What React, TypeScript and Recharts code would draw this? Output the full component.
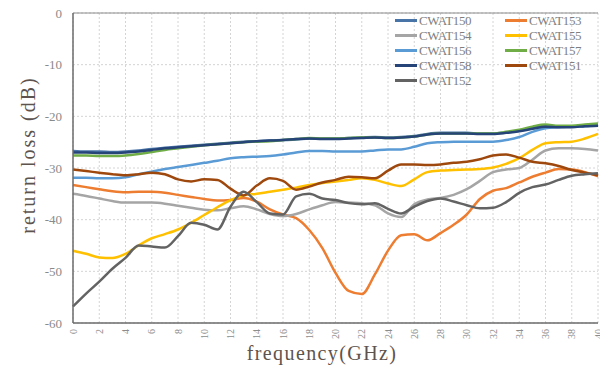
import { LineChart, Line, XAxis, YAxis, CartesianGrid, ReferenceLine } from "recharts";

const freq = [
  0, 1, 2, 3, 4, 5, 6, 7, 8, 9, 10, 11, 12, 13, 14, 15, 16, 17, 18, 19, 20,
  21, 22, 23, 24, 25, 26, 27, 28, 29, 30, 31, 32, 33, 34, 35, 36, 37, 38, 39, 40,
];
const xTicks = [0, 2, 4, 6, 8, 10, 12, 14, 16, 18, 20, 22, 24, 26, 28, 30, 32, 34, 36, 38, 40];
const yTicks = [-60, -50, -40, -30, -20, -10, 0];

const cwat150 = [
  -26.7, -26.8, -26.8, -26.9, -26.8, -26.6, -26.3, -26.1, -25.9, -25.7, -25.5,
  -25.3, -25.1, -24.9, -24.8, -24.7, -24.6, -24.5, -24.3, -24.3, -24.3,
  -24.2, -24.1, -24.0, -24.1, -24.0, -23.8, -23.4, -23.2, -23.2, -23.2,
  -23.3, -23.3, -23.1, -22.8, -22.3, -21.9, -22.0, -22.0, -21.8, -21.6,
];
const cwat158 = [
  -27.0, -27.0, -27.1, -27.1, -27.0, -26.8, -26.5, -26.2, -26.0, -25.8, -25.6,
  -25.4, -25.2, -25.0, -24.8, -24.7, -24.6, -24.4, -24.3, -24.4, -24.4,
  -24.3, -24.2, -24.1, -24.2, -24.1, -23.9, -23.5, -23.3, -23.3, -23.3,
  -23.4, -23.4, -23.2, -22.9, -22.4, -22.0, -22.1, -22.1, -21.9, -21.8,
];
const cwat157 = [
  -27.6, -27.6, -27.7, -27.7, -27.6, -27.3, -26.9, -26.5, -26.2, -25.9, -25.6,
  -25.4, -25.2, -25.0, -24.9, -24.8, -24.6, -24.4, -24.2, -24.3, -24.3,
  -24.2, -24.1, -24.1, -24.2, -24.1, -23.9, -23.5, -23.3, -23.3, -23.3,
  -23.3, -23.3, -23.0, -22.6, -22.0, -21.6, -21.8, -21.8, -21.6, -21.4,
];
const cwat156 = [
  -31.9, -31.9, -32.0, -32.0, -31.8, -31.2, -30.7, -30.2, -29.8, -29.4, -29.0,
  -28.6, -28.1, -27.9, -27.8, -27.7, -27.4, -27.0, -26.7, -26.7, -26.8,
  -26.8, -26.8, -26.6, -26.4, -26.4, -25.9, -25.2, -25.0, -24.9, -24.9,
  -24.9, -24.9, -24.6, -24.0, -23.0, -22.3, -22.1, -22.0, -21.9, -21.7,
];
const cwat151 = [
  -30.3, -30.6, -30.9, -31.2, -31.4, -31.2, -30.9, -31.2, -32.2, -32.6, -32.2,
  -32.3, -34.0, -35.3, -33.4, -32.0, -32.5, -34.2, -33.6, -32.8, -32.3,
  -31.7, -31.8, -32.0, -30.5, -29.3, -29.3, -29.4, -29.3, -29.0, -28.8,
  -28.3, -27.6, -27.4, -28.0, -28.8, -29.1, -29.6, -30.4, -30.9, -31.4,
];
const cwat153 = [
  -33.3, -33.7, -34.1, -34.5, -34.7, -34.6, -34.6, -34.8, -35.2, -35.6, -36.0,
  -36.3, -36.2, -35.8, -36.5, -38.0, -39.0, -39.7, -42.0, -45.5, -50.3,
  -53.8, -54.4, -50.6, -46.0, -43.0, -42.8, -44.0, -42.6, -41.0, -39.0,
  -36.0, -34.4, -33.9, -32.8, -31.7, -30.9, -30.2, -30.3, -30.8, -31.6,
];
const cwat154 = [
  -35.0, -35.4, -35.9, -36.4, -36.7, -36.7, -36.7, -36.9, -37.3, -37.7, -38.1,
  -38.2, -37.8, -37.4, -38.0, -38.9, -39.3, -38.9, -38.0, -37.2, -36.6,
  -36.7, -36.8, -37.2, -38.8, -39.5, -37.0, -36.1, -35.8, -35.2, -34.1,
  -32.5, -30.8, -30.3, -30.0, -28.4, -26.6, -26.2, -26.2, -26.3, -26.6,
];
const cwat155 = [
  -46.0, -46.6, -47.3, -47.4, -46.6, -45.0, -43.6, -42.8, -41.9, -40.6, -39.1,
  -37.6, -36.2, -35.3, -35.0, -34.6, -34.2, -33.8, -33.3, -32.9, -32.6,
  -32.3, -32.0, -32.3, -33.0, -33.5, -32.2, -30.8, -30.5, -30.4, -30.3,
  -30.2, -29.9, -29.2, -28.1, -26.5, -25.2, -25.0, -24.9, -24.3, -23.4,
];
const cwat152 = [
  -56.8, -54.3, -52.0, -49.5, -47.4, -45.0, -45.2, -45.4, -43.2, -40.6, -41.0,
  -41.9, -37.5, -34.6, -36.6, -38.8, -39.0, -35.5, -35.0, -35.9, -36.2,
  -36.8, -37.0, -36.8, -37.9, -38.8, -37.5, -36.4, -35.9, -36.5, -37.2,
  -37.8, -37.7, -36.6, -34.8, -33.7, -33.2, -32.3, -31.5, -31.2, -31.0,
];

const series = [
  { key: "CWAT150", values: cwat150, color: "#4874a8" },
  { key: "CWAT153", values: cwat153, color: "#ed7d31" },
  { key: "CWAT154", values: cwat154, color: "#a5a5a5" },
  { key: "CWAT155", values: cwat155, color: "#ffc000" },
  { key: "CWAT156", values: cwat156, color: "#5b9bd5" },
  { key: "CWAT157", values: cwat157, color: "#70ad47" },
  { key: "CWAT158", values: cwat158, color: "#264478" },
  { key: "CWAT151", values: cwat151, color: "#9e480e" },
  { key: "CWAT152", values: cwat152, color: "#636363" },
];

const rows = freq.map((f, i) => {
  const row: Record<string, number> = { f };
  series.forEach((s) => (row[s.key] = s.values[i]));
  return row;
});

const serif = "'Liberation Serif', 'Times New Roman', serif";

function XTick({ x, y, payload }: any) {
  return (
    <text
      x={x}
      y={y}
      transform={`rotate(-90, ${x}, ${y})`}
      textAnchor="end"
      dominantBaseline="central"
      fontSize={10}
      fontFamily={serif}
      fill="#8c8c8c"
    >
      {payload.value}
    </text>
  );
}

export default function App() {
  return (
    <div style={{ position: "absolute", left: 0, top: 0, width: 600, height: 367, background: "#fff" }}>
      <LineChart width={600} height={367} data={rows} margin={{ top: 13, right: 2, left: 0, bottom: 0 }}>
        <CartesianGrid stroke="#d4d4d4" strokeDasharray="2 2" />
        <XAxis
          dataKey="f"
          type="number"
          domain={[0, 40]}
          ticks={xTicks}
          interval={0}
          height={44}
          tickLine={false}
          tickMargin={0}
          axisLine={{ stroke: "#6b6b6b", strokeWidth: 1.5 }}
          tick={<XTick />}
        />
        <YAxis
          type="number"
          domain={[-60, 0]}
          ticks={yTicks}
          width={73}
          tickLine={false}
          tickMargin={5}
          axisLine={{ stroke: "#6b6b6b", strokeWidth: 1.5 }}
          tick={{ fontSize: 13, fill: "#8a8a8a", fontFamily: serif }}
        />
        <ReferenceLine y={0} stroke="#8c8c8c" />
        {series.map((s) => (
          <Line
            key={s.key}
            type="monotone"
            dataKey={s.key}
            stroke={s.color}
            strokeWidth={2.5}
            dot={false}
            isAnimationActive={false}
          />
        ))}
      </LineChart>

      <div
        style={{
          position: "absolute",
          left: 28,
          top: 155,
          transform: "translate(-50%, -50%) rotate(-90deg)",
          whiteSpace: "nowrap",
          fontFamily: serif,
          fontSize: 20,
          letterSpacing: 2,
          color: "#5e534d",
        }}
      >
        return loss (dB)
      </div>
      <div
        style={{
          position: "absolute",
          left: 322,
          top: 353,
          transform: "translate(-50%, -50%)",
          whiteSpace: "nowrap",
          fontFamily: serif,
          fontSize: 20,
          letterSpacing: 1.4,
          color: "#5e534d",
        }}
      >
        frequency(GHz)
      </div>

      <div
        style={{
          position: "absolute",
          left: 395,
          top: 13,
          display: "grid",
          gridTemplateColumns: "110px 80px",
          rowGap: 0,
          fontFamily: serif,
          fontSize: 13,
          letterSpacing: -0.4,
          color: "#7f7f7f",
        }}
      >
        {series.map((s) => (
          <div key={s.key} style={{ display: "flex", alignItems: "center", height: 15 }}>
            <span style={{ display: "inline-block", width: 22, height: 3, background: s.color, marginRight: 2 }} />
            <span>{s.key}</span>
          </div>
        ))}
      </div>
    </div>
  );
}
